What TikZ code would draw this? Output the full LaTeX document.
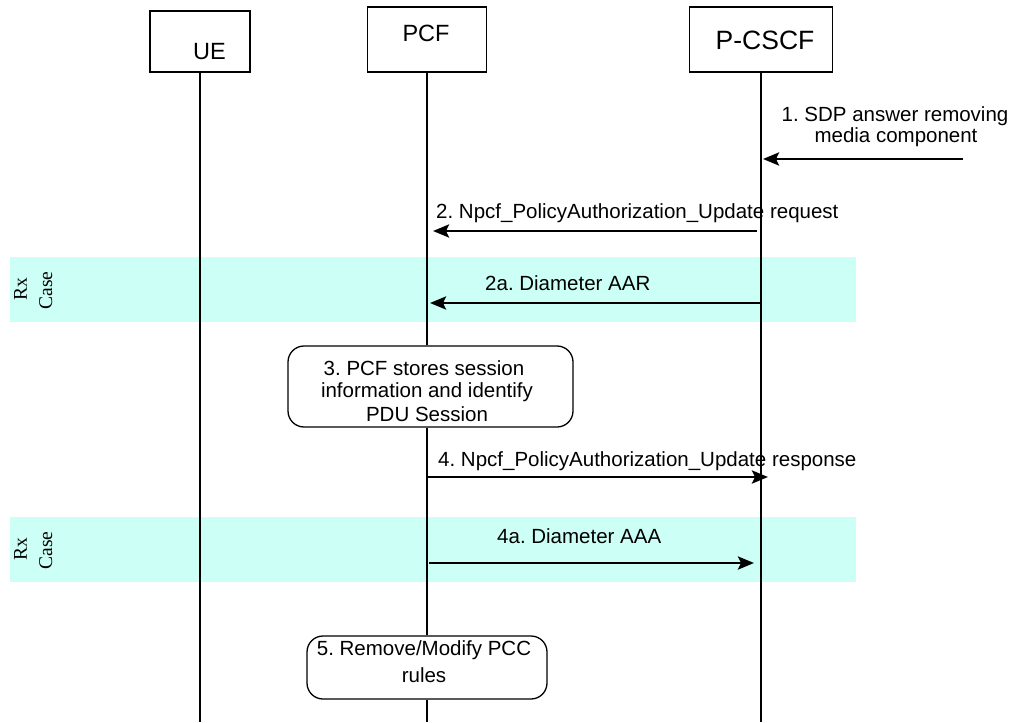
\documentclass[tikz,border=0pt]{standalone}
\usepackage{fontspec}
\setmainfont{Liberation Sans}
\newfontfamily\serifrx{Liberation Serif}
\usetikzlibrary{arrows.meta}
\definecolor{bandc}{RGB}{204,255,245}
\frenchspacing
\begin{document}
\frenchspacing
\begin{tikzpicture}[x=1pt,y=-1pt,
  hdr/.style={draw, line width=1.3pt, inner sep=0},
  life/.style={line width=1.4pt},
  msg/.style={line width=2.8pt, -{Stealth[length=16pt,width=13pt,inset=3pt]}},
  lbl/.style={font=\fontsize{20.5}{24}\selectfont, inner sep=0},
  proc/.style={draw, line width=1.3pt, rounded corners=16pt, inner sep=0},
  rx/.style={font=\serifrx\fontsize{19.5}{22}\selectfont, rotate=90, inner sep=0, anchor=base}
]
\useasboundingbox (0,0) rectangle (1016,722);
% bands
\fill[bandc] (10,257) rectangle (856,322);
\fill[bandc] (10,517) rectangle (856,582);
\node[rx] (rx1a) at (27,289) {Rx};
\node[rx] (rx1b) at (52,290.5) {Case};
\node[rx] (rx2a) at (27,549) {Rx};
\node[rx] (rx2b) at (52,550.5) {Case};
% headers
\node[hdr, minimum width=100pt, minimum height=61pt] (ue) at (200,41.5) {};
\node[hdr, minimum width=119pt, minimum height=65pt] (pcf) at (427,39.5) {};
\node[hdr, minimum width=143pt, minimum height=65pt] (pcscf) at (761,39.5) {};
\node[inner sep=0, anchor=base, font=\fontsize{23.5}{26}\selectfont] (uet) at (209.5,60) {UE};
\node[inner sep=0, anchor=base, font=\fontsize{23.5}{26}\selectfont] (pcft) at (426,42) {PCF};
\node[inner sep=0, anchor=base, font=\fontsize{26.5}{30}\selectfont] (pcscft) at (765,50) {P-CSCF};
% process boxes
\node[proc, minimum width=285pt, minimum height=81pt] (s3) at (430.5,386.5) {};
\node[proc, minimum width=240pt, minimum height=63pt] (s5) at (427,667.5) {};
\node[lbl, anchor=base] (s3a) at (424,375) {3. PCF stores session};
\node[lbl, anchor=base] (s3b) at (427,397.5) {information and identify};
\node[lbl, anchor=base] (s3c) at (427,421) {PDU Session};
\node[lbl, anchor=base] (s5a) at (424,655) {5. Remove/Modify PCC};
\node[lbl, anchor=base] (s5b) at (424,682) {rules};
% lifelines
\coordinate (ueb) at (200,722);
\coordinate (pcfb) at (427,722);
\coordinate (pcscfb) at (761,722);
\draw[life] (ue.south) -- (ueb);
\draw[life] (pcf.south) -- (pcf.south |- s3.north);
\draw[life] (pcf.south |- s3.south) -- (pcf.south |- s5.north);
\draw[life] (pcf.south |- s5.south) -- (pcfb);
\draw[life] (pcscf.south) -- (pcscfb);
% messages
\coordinate (m1s) at (963,159); \coordinate (m1e) at (763,159);
\coordinate (m2s) at (757,231); \coordinate (m2e) at (433,231);
\coordinate (m2as) at (760,303); \coordinate (m2ae) at (430,303);
\coordinate (m4s) at (427,477); \coordinate (m4e) at (768,477);
\coordinate (m4as) at (429,563); \coordinate (m4ae) at (754,563);
\draw[msg] (m1s) -- (m1e);
\draw[msg] (m2s) -- (m2e);
\draw[msg] (m2as) -- (m2ae);
\draw[msg] (m4s) -- (m4e);
\draw[msg] (m4as) -- (m4ae);
\node[lbl, anchor=base] (l1a) at (895,122) {1. SDP answer removing};
\node[lbl, anchor=base] (l1b) at (896,143) {media component};
\node[lbl, anchor=base west] (l2) at (436,218) {2. Npcf\_PolicyAuthorization\_Update request};
\node[lbl, anchor=base west] (l2a) at (485,290) {2a. Diameter AAR};
\node[lbl, anchor=base west] (l4) at (438,466) {4. Npcf\_PolicyAuthorization\_Update response};
\node[lbl, anchor=base west] (l4a) at (497,543) {4a. Diameter AAA};
\end{tikzpicture}
\end{document}
